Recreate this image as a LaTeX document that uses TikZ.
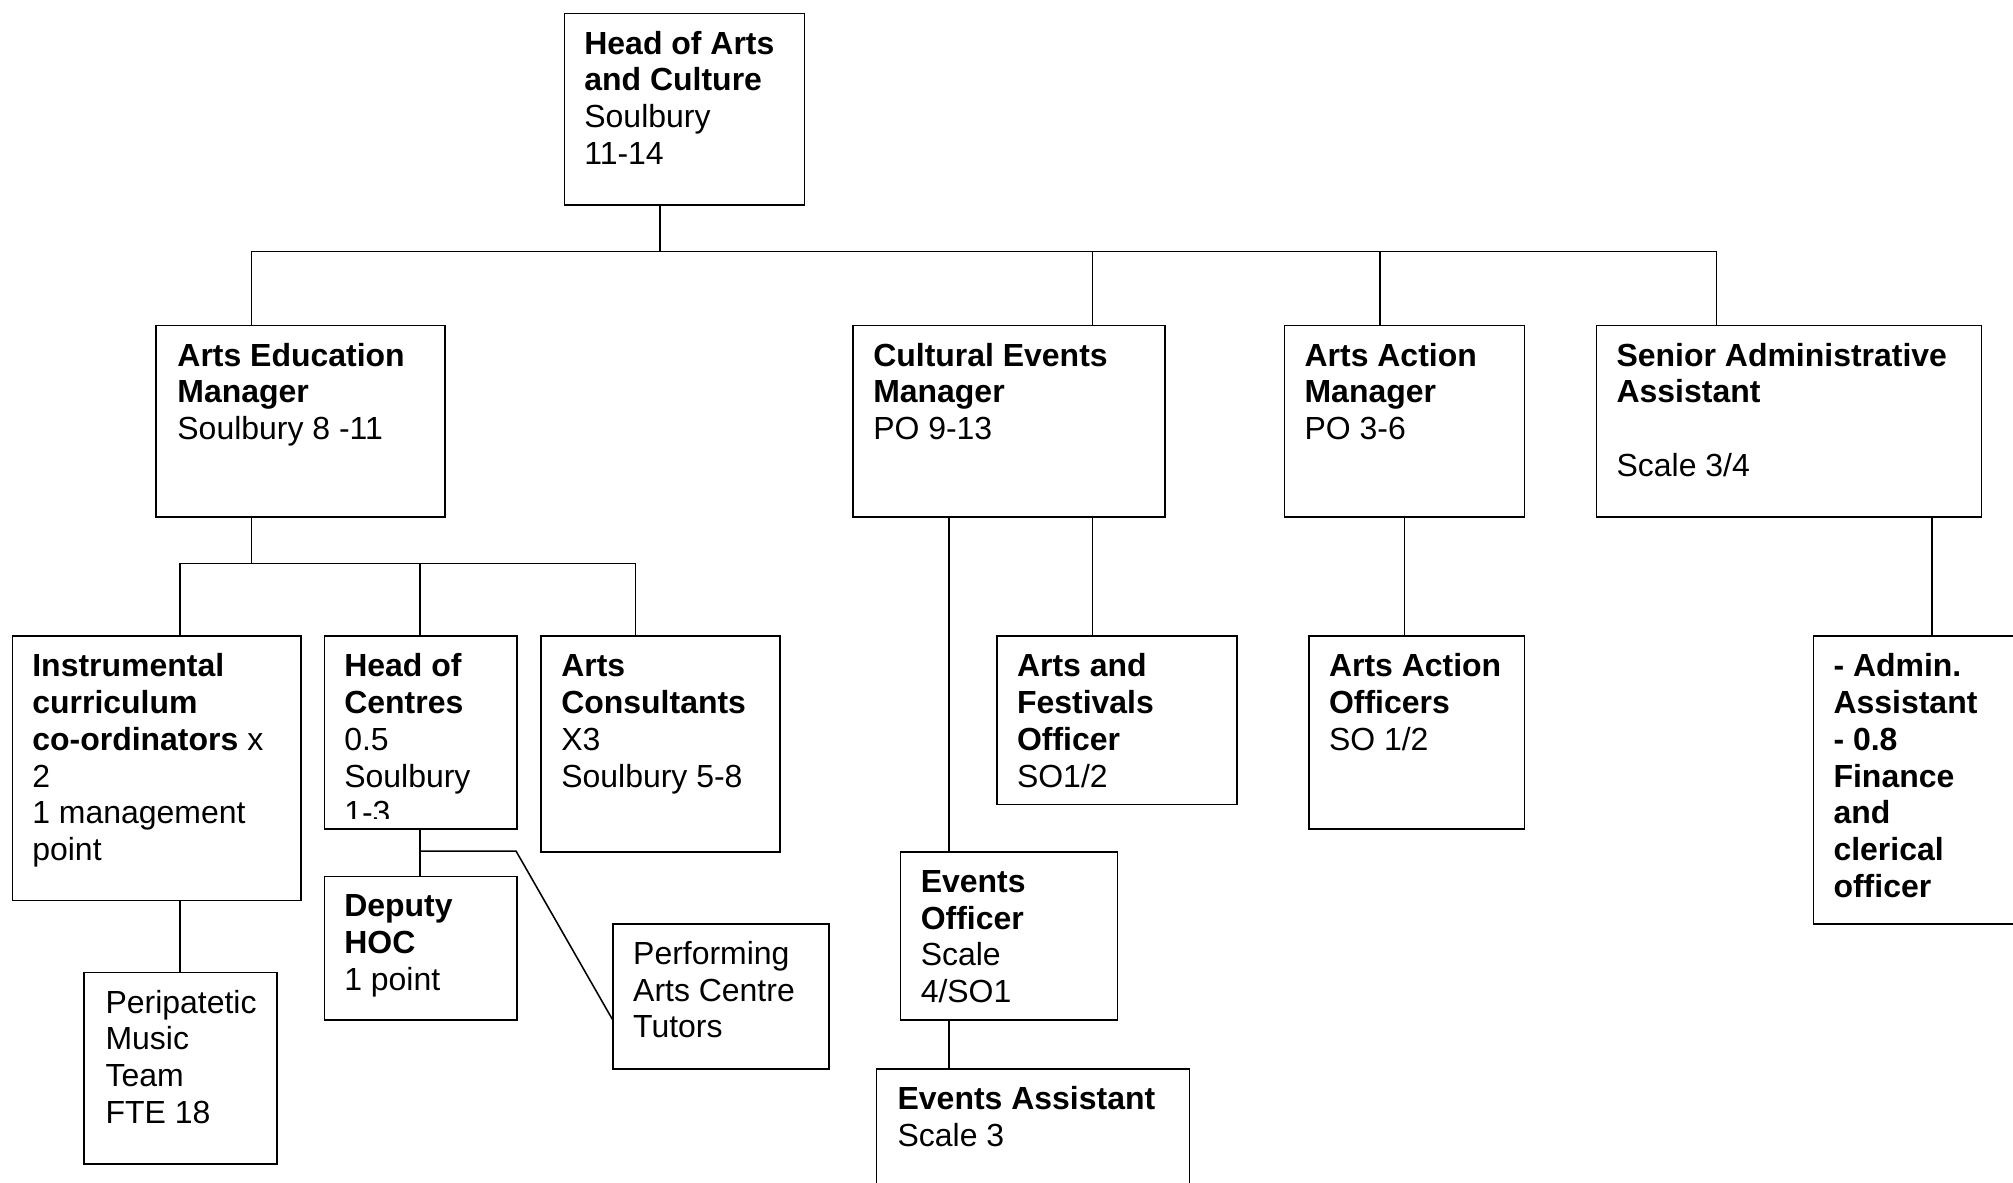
\documentclass[tikz,border=0pt]{standalone}
\usepackage{fontspec}
\setmainfont{Liberation Sans}
\usepackage{tikz}

\tikzset{
        post/.style={draw, line width=1.2pt, inner sep=0pt, anchor=north west},
        postText/.style={anchor=north west, inner sep=0pt, align=left, font=\fontsize{24.9}{28.6}\selectfont},
        link/.style={line width=1.2pt}
}

\begin{document}
\begin{tikzpicture}[x=1pt, y=-1pt]
        \useasboundingbox (0,0) rectangle (1568,921);
        \clip (0,0) rectangle (1568,921);

        \node[post, minimum width=187pt, minimum height=149pt] (head) at (439,10) {};
        \node[postText] (head-t) at ([shift={(16pt,-12pt)}]head.north west) {\strut\textbf{Head of Arts}\\\textbf{and Culture}\\Soulbury\\11-14};

        \node[post, minimum width=225pt, minimum height=149pt] (aem) at (121,253) {};
        \node[postText] (aem-t) at ([shift={(17pt,-12pt)}]aem.north west) {\strut\textbf{Arts Education}\\\textbf{Manager}\\Soulbury 8 -11};
        \node[post, minimum width=243pt, minimum height=149pt] (cem) at (664,253) {};
        \node[postText] (cem-t) at ([shift={(16pt,-12pt)}]cem.north west) {\strut\textbf{Cultural Events}\\\textbf{Manager}\\PO 9-13};
        \node[post, minimum width=187pt, minimum height=149pt] (aam) at (1000,253) {};
        \node[postText] (aam-t) at ([shift={(16pt,-12pt)}]aam.north west) {\strut\textbf{Arts Action}\\\textbf{Manager}\\PO 3-6};
        \node[post, minimum width=300pt, minimum height=149pt] (saa) at (1243,253) {};
        \node[postText] (saa-t) at ([shift={(16pt,-12pt)}]saa.north west) {\strut\textbf{Senior Administrative}\\\textbf{Assistant}\\[28.6pt]Scale 3/4};

        \node[post, minimum width=225pt, minimum height=206pt] (icc) at (9,495) {};
        \node[postText] (icc-t) at ([shift={(16pt,-12pt)}]icc.north west) {\strut\textbf{Instrumental}\\\textbf{curriculum}\\\textbf{co-ordinators} x\\2\\1 management\\point};
        \node[post, minimum width=150pt, minimum height=150pt] (hoc) at (252,495) {};
        \begin{scope}
                \clip (hoc.north west) rectangle ([yshift=9pt]hoc.south east);
                \node[postText] (hoc-t) at ([shift={(16pt,-12pt)}]hoc.north west) {\strut\textbf{Head of}\\\textbf{Centres}\\0.5\\Soulbury\\1-3};
        \end{scope}
        \node[post, minimum width=186pt, minimum height=168pt] (ac) at (421,495) {};
        \node[postText] (ac-t) at ([shift={(16pt,-12pt)}]ac.north west) {\strut\textbf{Arts}\\\textbf{Consultants}\\X3\\Soulbury 5-8};
        \node[post, minimum width=150pt, minimum height=149pt] (pmt) at (65,757) {};
        \node[postText] (pmt-t) at ([shift={(17pt,-12pt)}]pmt.north west) {\strut Peripatetic\\Music\\Team\\FTE 18};
        \node[post, minimum width=150pt, minimum height=112pt] (dep) at (252,682) {};
        \node[postText] (dep-t) at ([shift={(16pt,-12pt)}]dep.north west) {\strut\textbf{Deputy}\\\textbf{HOC}\\1 point};
        \node[post, minimum width=168pt, minimum height=113pt] (pat) at (477,719) {};
        \node[postText] (pat-t) at ([shift={(16pt,-12pt)}]pat.north west) {\strut Performing\\Arts Centre\\Tutors};

        \node[post, minimum width=187pt, minimum height=131pt] (afo) at (776,495) {};
        \node[postText] (afo-t) at ([shift={(16pt,-12pt)}]afo.north west) {\strut\textbf{Arts and}\\\textbf{Festivals}\\\textbf{Officer}\\SO1/2};
        \node[post, minimum width=169pt, minimum height=131pt] (eo) at (701,663) {};
        \node[postText] (eo-t) at ([shift={(16pt,-12pt)}]eo.north west) {\strut\textbf{Events}\\\textbf{Officer}\\Scale\\4/SO1};
        \node[post, minimum width=244pt, minimum height=120pt] (ea) at (682,832) {};
        \node[postText] (ea-t) at ([shift={(17pt,-12pt)}]ea.north west) {\strut\textbf{Events Assistant}\\Scale 3};
        \node[post, minimum width=168pt, minimum height=150pt] (aao) at (1019,495) {};
        \node[postText] (aao-t) at ([shift={(16pt,-12pt)}]aao.north west) {\strut\textbf{Arts Action}\\\textbf{Officers}\\SO 1/2};
        \node[post, minimum width=200pt, minimum height=224pt] (adm) at (1412,495) {};
        \node[postText] (adm-t) at ([shift={(16pt,-12pt)}]adm.north west) {\strut\textbf{- Admin.}\\\textbf{Assistant}\\\textbf{- 0.8}\\\textbf{Finance}\\\textbf{and}\\\textbf{clerical}\\\textbf{officer}};

        \coordinate (top) at (514,196);
        \coordinate (topL) at (196,196);
        \coordinate (topC) at (851,196);
        \coordinate (topA) at (1075,196);
        \coordinate (topR) at (1337,196);
        \draw[link] (head.south -| top) -- (top);
        \draw[link] (aem.north -| topL) -- (topL) -- (topR) -- (saa.north -| topR);
        \draw[link] (cem.north -| topC) -- (topC);
        \draw[link] (aam.north -| topA) -- (topA);

        \coordinate (edu) at (196,439);
        \coordinate (eduL) at (140,439);
        \coordinate (eduM) at (327,439);
        \coordinate (eduR) at (495,439);
        \draw[link] (aem.south -| edu) -- (edu);
        \draw[link] (icc.north -| eduL) -- (eduL) -- (eduR) -- (ac.north -| eduR);
        \draw[link] (hoc.north -| eduM) -- (eduM);
        \draw[link] (icc.south -| eduL) -- (pmt.north -| eduL);

        \coordinate (hocJ) at (327,663);
        \coordinate (hocK) at (402,663);
        \coordinate (patIn) at (477,794);
        \draw[link] (hoc.south -| hocJ) -- (dep.north -| hocJ);
        \draw[link] (hocJ) -- (hocK) -- (pat.west |- patIn);

        \coordinate (evX) at (739,0);
        \coordinate (feX) at (851,0);
        \coordinate (actX) at (1094,0);
        \coordinate (admX) at (1505,0);
        \draw[link] (cem.south -| evX) -- (eo.north -| evX);
        \draw[link] (eo.south -| evX) -- (ea.north -| evX);
        \draw[link] (cem.south -| feX) -- (afo.north -| feX);
        \draw[link] (aam.south -| actX) -- (aao.north -| actX);
        \draw[link] (saa.south -| admX) -- (adm.north -| admX);
\end{tikzpicture}
\end{document}
